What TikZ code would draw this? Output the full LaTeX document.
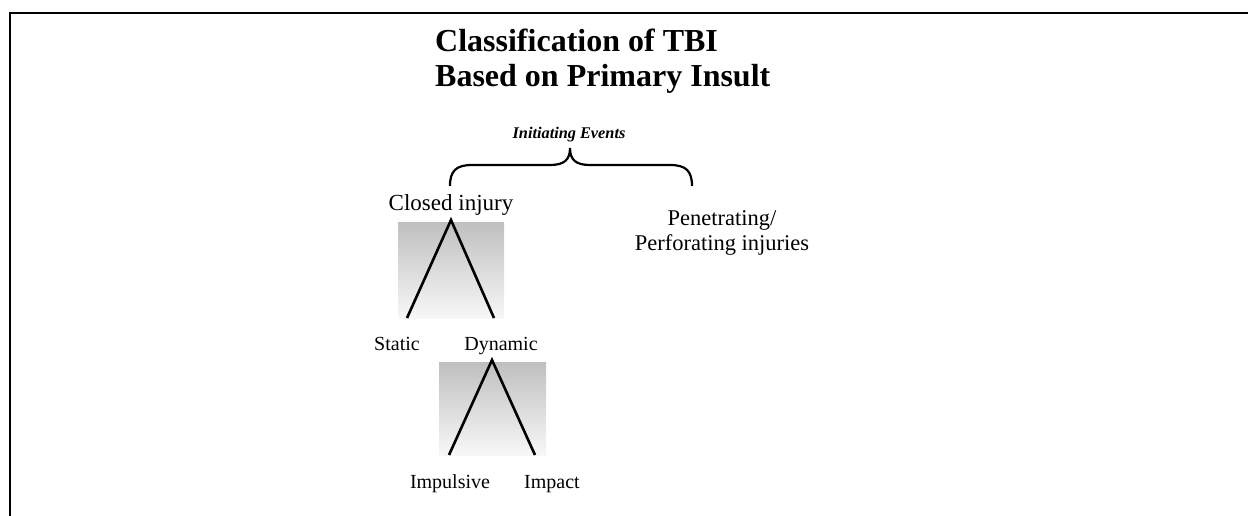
\documentclass[tikz,border=0pt]{standalone}
\usepackage{fontspec}
\setmainfont{Liberation Serif}
\usetikzlibrary{positioning}

\tikzset{
  branch/.style={line width=2.6pt},
  shadebox/.style={top color=black!25, bottom color=black!3, draw=none},
  lbl/.style={font=\fontsize{20}{22}\selectfont, inner sep=0pt, anchor=base},
  bigl/.style={font=\fontsize{23}{26}\selectfont, inner sep=0pt, anchor=base}
}

\begin{document}
\begin{tikzpicture}[x=1pt,y=-1pt]
\useasboundingbox (0,0) rectangle (1248,516);
% frame
\draw[line width=2pt] (10,516) -- (10,13) -- (1248,13);

% Title
\node[anchor=north west, align=left, inner sep=0pt,
      font=\fontsize{32}{35}\selectfont\bfseries] (title) at (435,29)
  {Classification of TBI\\Based on Primary Insult};
\node[inner sep=0pt, anchor=base, font=\fontsize{16.3}{18}\selectfont\bfseries\itshape] (ev) at (569,139) {Initiating Events};

% brace
\coordinate (bl) at (450,186);
\coordinate (tip) at (570,148);
\coordinate (br) at (692,186);
\draw[line width=2.2pt] (bl) .. controls (450,171) and (456,165) .. (472,165)
  -- (550,165) .. controls (564,165) and (570,160) .. (tip)
  .. controls (570,160) and (576,165) .. (590,165)
  -- (670,165) .. controls (686,165) and (692,171) .. (br);

% Closed injury / Penetrating
\node[bigl] (closed) at (451,210) {Closed injury};
\node[bigl, font=\fontsize{22.5}{25}\selectfont] (pen) at (722,225) {Penetrating/};
\node[bigl, font=\fontsize{22.5}{25}\selectfont] (perf) at (722,250) {Perforating injuries};

% first split
\shade[shadebox] (398,222) rectangle (504,318);
\coordinate (a1) at (451,220);
\coordinate (s1) at (407,318);
\coordinate (d1) at (494,318);
\draw[branch] (s1) -- (a1) -- (d1);
\node[lbl] (static) at (397,350) {Static};
\node[lbl] (dyn) at (501,350) {Dynamic};

% second split
\shade[shadebox] (439,362) rectangle (546,455);
\coordinate (a2) at (492,360);
\coordinate (i2) at (449,455);
\coordinate (m2) at (535,455);
\draw[branch] (i2) -- (a2) -- (m2);
\node[lbl] (impul) at (450,488) {Impulsive};
\node[lbl] (impact) at (552,488) {Impact};
\end{tikzpicture}
\end{document}
